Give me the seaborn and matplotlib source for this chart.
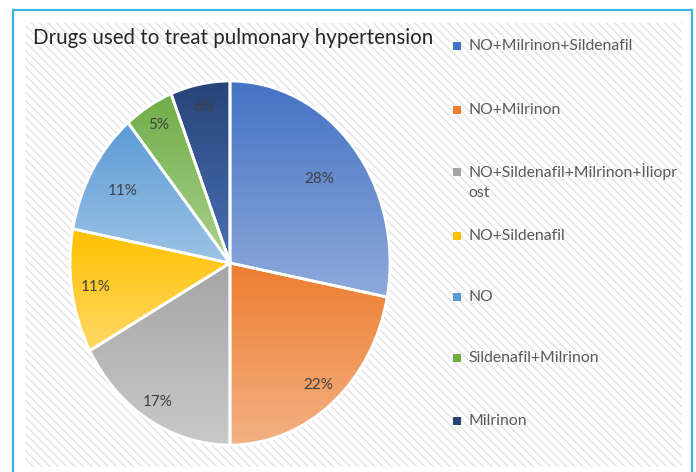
import numpy as np
import matplotlib
matplotlib.use("Agg")
import matplotlib.pyplot as plt
import matplotlib.colors as mcolors
from matplotlib.patches import Rectangle
import seaborn as sns

# Chart data
drugs = ["NO+Milrinon+Sildenafil", "NO+Milrinon",
         "NO+Sildenafil+Milrinon+İliopr\nost", "NO+Sildenafil", "NO",
         "Sildenafil+Milrinon", "Milrinon"]
shares = [28, 22, 17, 11, 11, 5, 6]
pct_labels = ["28%", "22%", "17%", "11%", "11%", "5%", "6%"]

# Office-like colours, top and bottom of each wedge gradient
top_colors = ["#4472C4", "#ED7D31", "#A5A5A5", "#FFC000", "#5B9BD5", "#70AD47", "#264478"]
bottom_colors = ["#8FAADC", "#F4B183", "#C9C9C9", "#FFD966", "#9DC3E6", "#A9D18E", "#4A6FB5"]
label_dist = [0.72, 0.87, 0.89, 0.85, 0.78, 0.88, 0.87]

sns.set_theme(style="white")
plt.rcParams["font.family"] = ["Lato", "DejaVu Sans"]
plt.rcParams["hatch.linewidth"] = 1.0

W, H = 696, 472
fig = plt.figure(figsize=(W / 100, H / 100), dpi=100)
fig.patch.set_facecolor("white")

# hatched chart background
bg = Rectangle((25 / W, 1 - 467 / H), 657 / W, 444 / H, transform=fig.transFigure,
               facecolor="white", edgecolor="#e3e3e3", hatch="\\\\\\\\", linewidth=0,
               zorder=-5)
fig.patches.append(bg)
# blue outer frame
frame = Rectangle((13 / W, -0.05), 679 / W, 1.05 - 10 / H, transform=fig.transFigure,
                  facecolor="none", edgecolor="#3DB3E3", linewidth=1.6, zorder=-4)
fig.patches.append(frame)

fig.text(33 / W, 1 - 38 / H, "Drugs used to treat pulmonary hypertension",
         fontsize=14.8, color="#262626", va="center", ha="left")

# pie axes (slightly taller than wide, as in the original)
cx, cy, rx, ry = 230, 263, 160, 182
ax = fig.add_axes([(cx - rx) / W, 1 - (cy + ry) / H, 2 * rx / W, 2 * ry / H])
ax.patch.set_alpha(0)

wedges, _ = ax.pie(shares, startangle=90, counterclock=False,
                   colors=top_colors,
                   wedgeprops=dict(edgecolor="white", linewidth=2, clip_on=False))

# vertical gradient fill clipped to every wedge
for w, c0, c1 in zip(wedges, top_colors, bottom_colors):
    ext = w.get_path().get_extents()
    t = np.linspace(0, 1, 128)[:, None]
    a = np.array(mcolors.to_rgb(c0))
    b = np.array(mcolors.to_rgb(c1))
    img = (a[None, :] * (1 - t) + b[None, :] * t)[:, None, :]
    im = ax.imshow(img, extent=[ext.x0, ext.x1, ext.y0, ext.y1], origin="upper",
                   aspect="auto", zorder=1, interpolation="bilinear")
    im.set_clip_path(w)
    w.set_facecolor("none")
    w.set_zorder(2)

# percentage labels
for w, lab, d in zip(wedges, pct_labels, label_dist):
    ang = np.deg2rad((w.theta1 + w.theta2) / 2)
    ax.text(d * np.cos(ang), d * np.sin(ang), lab, ha="center", va="center",
            fontsize=11, color="#404040", zorder=3)

ax.set_xlim(-1, 1)
ax.set_ylim(-1, 1)
ax.set_aspect("auto")
ax.axis("off")

# legend on the right
leg_y = [46, 110, 172, 236, 297, 358, 421]
for lab, col, y in zip(drugs, top_colors, leg_y):
    fig.patches.append(Rectangle((453 / W, 1 - (y + 4) / H), 8 / W, 8 / H,
                                 transform=fig.transFigure, facecolor=col,
                                 edgecolor="none"))
    if "\n" in lab:
        fig.text(468 / W, 1 - (y - 9) / H, lab, fontsize=11.3, color="#595959",
                 va="top", ha="left", linespacing=1.55)
    else:
        fig.text(468 / W, 1 - y / H, lab, fontsize=11.3, color="#595959",
                 va="center", ha="left")

fig.savefig("out.png", dpi=100)
